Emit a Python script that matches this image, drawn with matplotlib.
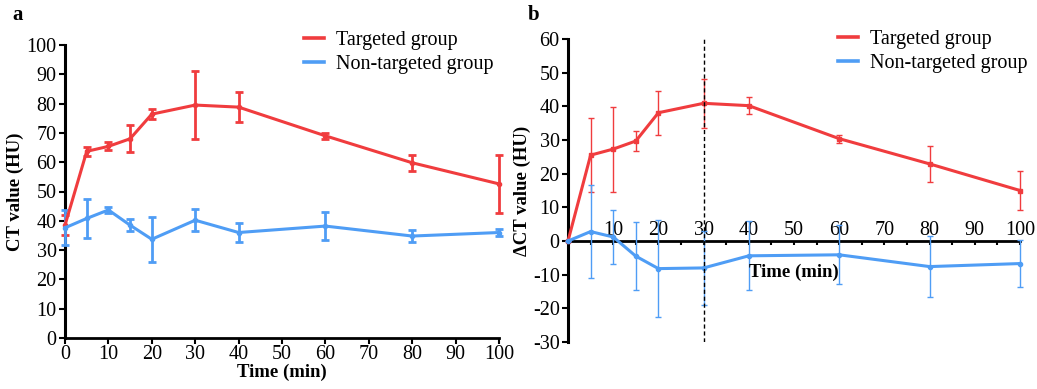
import numpy as np
import matplotlib
matplotlib.use('Agg')
import matplotlib.pyplot as plt
from matplotlib.lines import Line2D

plt.rcParams['font.family'] = 'Liberation Serif'
plt.rcParams['axes.unicode_minus'] = False

# data
t = [0, 5, 10, 15, 20, 30, 40, 60, 80, 100]

# panel a - CT value
ct_targ = [38.5, 63.7, 65.4, 68.0, 76.4, 79.5, 78.8, 69.0, 59.8, 52.6]
ct_targ_err = [3.5, 1.6, 1.4, 4.6, 1.7, 11.5, 5.0, 1.0, 2.8, 10.0]
ct_non = [37.6, 40.8, 43.7, 38.5, 33.7, 40.2, 36.0, 38.2, 34.8, 36.0]
ct_non_err = [6.0, 6.8, 1.0, 2.0, 7.7, 3.7, 3.4, 4.8, 2.2, 1.3]

# panel b - delta CT value
d_targ = [0, 25.5, 27.3, 29.7, 38.1, 40.9, 40.2, 30.4, 22.9, 15.0]
d_targ_err = [0, 11.0, 12.6, 3.0, 6.6, 7.3, 2.6, 1.2, 5.3, 5.8]
d_non = [0, 2.8, 1.2, -4.5, -8.2, -8.0, -4.4, -4.1, -7.6, -6.7]
d_non_err = [0, 13.8, 8.0, 10.2, 14.3, 11.0, 10.2, 8.8, 9.1, 7.0]

red = '#F03C3E'
blue = '#4F9DF5'
labels = ['Targeted group', 'Non-targeted group']
handles = [Line2D([], [], color=red, lw=2.6), Line2D([], [], color=blue, lw=2.6)]

fig = plt.figure(figsize=(10.37, 3.89), dpi=100)
ax1 = fig.add_axes([65/1037, 1-338/389, (499-65)/1037, (338-45)/389])
ax2 = fig.add_axes([568/1037, 1-342/389, (1020-568)/1037, (342-39)/389])

# ---- panel a
ax1.errorbar(t, ct_targ, yerr=ct_targ_err, color=red, lw=2.2, elinewidth=2.0,
             capsize=3, capthick=2.0, marker='o', ms=3, clip_on=False, zorder=3)
ax1.errorbar(t, ct_non, yerr=ct_non_err, color=blue, lw=2.2, elinewidth=2.0,
             capsize=3, capthick=2.0, marker='o', ms=3, clip_on=False, zorder=3)
ax1.set_xlim(0, 100)
ax1.set_ylim(0, 100)
ax1.set_xticks(range(0, 101, 10))
ax1.set_yticks(range(0, 101, 10))
for s in ['top', 'right']:
    ax1.spines[s].set_visible(False)
ax1.spines['left'].set_linewidth(2.2)
ax1.spines['bottom'].set_linewidth(2.0)
ax1.tick_params(direction='out', length=4, width=1.5, labelsize=14.5, pad=1, colors='black')
ax1.tick_params(axis='y', pad=2)
ax1.set_xlabel('Time (min)', fontsize=13.5, fontweight='bold', labelpad=0)
ax1.set_ylabel('CT value (HU)', fontsize=13.5, fontweight='bold', labelpad=2)
ax1.legend(handles, labels, loc='upper left', bbox_to_anchor=(304/1037, 1-31/389),
           bbox_transform=fig.transFigure, frameon=False, fontsize=14.5, handlelength=1.0,
           handletextpad=0.6, labelspacing=0.22, borderpad=0, borderaxespad=0)

# ---- panel b
ax2.errorbar(t, d_targ, yerr=d_targ_err, color=red, lw=2.2, elinewidth=1.0,
             capsize=2.5, capthick=1.0, marker='s', ms=3, clip_on=False, zorder=3)
ax2.errorbar(t, d_non, yerr=d_non_err, color=blue, lw=2.2, elinewidth=1.0,
             capsize=2.5, capthick=1.0, marker='o', ms=3, clip_on=False, zorder=3)
ax2.axvline(30, color='black', ls='--', lw=1.0, dashes=(3, 2), zorder=4)
ax2.set_xlim(0, 100)
ax2.set_ylim(-30, 60)
ax2.set_yticks(range(-30, 61, 10))
ax2.spines['right'].set_visible(False)
ax2.spines['bottom'].set_visible(False)
ax2.spines['top'].set_position(('data', 0))
ax2.spines['top'].set_linewidth(2.0)
ax2.spines['left'].set_linewidth(2.2)
ax2.xaxis.tick_top()
ax2.set_xticks(range(10, 101, 10))
ax2.set_xticks(range(5, 101, 10), minor=True)
ax2.tick_params(axis='x', which='both', direction='in', length=3, width=1.5, labelsize=14.5, pad=1)
ax2.tick_params(axis='y', direction='out', length=4, width=1.5, labelsize=14.5, pad=2)
ax2.text(50, -9.3, 'Time (min)', fontsize=13.5, fontweight='bold', ha='center', va='center')
ax2.set_ylabel('ΔCT value (HU)', fontsize=13.5, fontweight='bold', labelpad=1)
ax2.legend(handles, labels, loc='upper left', bbox_to_anchor=(838/1037, 1-30/389),
           bbox_transform=fig.transFigure, frameon=False, fontsize=14.5, handlelength=1.0,
           handletextpad=0.6, labelspacing=0.22, borderpad=0, borderaxespad=0)

fig.text(12/1037, 1-15/389, 'a', fontsize=15, fontweight='bold', va='center')
fig.text(528/1037, 1-15/389, 'b', fontsize=15, fontweight='bold', va='center')

fig.savefig('out.png', dpi=100)
